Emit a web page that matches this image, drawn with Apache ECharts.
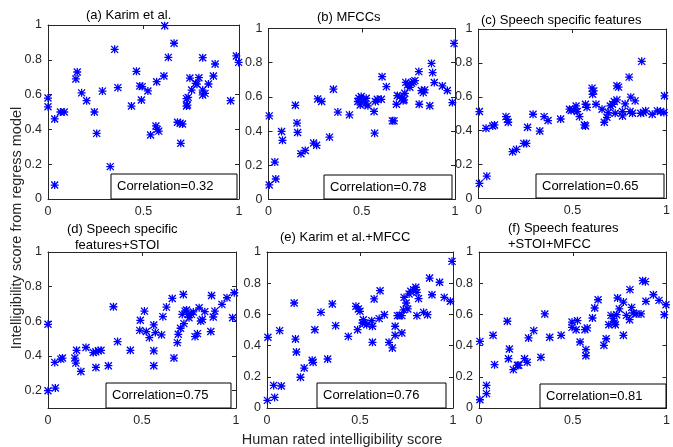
<!DOCTYPE html>
<html>
<head>
<meta charset="utf-8">
<script src="https://cdn.jsdelivr.net/npm/echarts@6/dist/echarts.min.js"></script>
<style>
  html, body { margin: 0; padding: 0; background: #fff; }
  #chart { width: 673px; height: 447px; }
</style>
</head>
<body>
<div id="chart"></div>
<script>
// Predicted vs. human-rated intelligibility, one [human, predicted] pair per utterance.
const karimPts = [
  [0.0,0.58],[0.0,0.53],[0.035,0.46],[0.065,0.50],[0.085,0.50],[0.035,0.08],[0.146,0.69],[0.153,0.73],
  [0.176,0.61],[0.202,0.565],[0.243,0.50],[0.255,0.377],[0.285,0.62],[0.326,0.186],[0.349,0.86],[0.366,0.64],
  [0.437,0.534],[0.463,0.734],[0.481,0.649],[0.493,0.646],[0.489,0.569],[0.523,0.621],[0.537,0.368],[0.569,0.674],
  [0.565,0.42],[0.572,0.40],[0.58,0.39],[0.607,0.707],[0.611,0.996],[0.630,0.814],[0.660,0.895],[0.678,0.441],
  [0.692,0.435],[0.704,0.431],[0.695,0.32],[0.725,0.534],[0.725,0.577],[0.734,0.584],[0.73,0.54],[0.743,0.695],
  [0.752,0.626],[0.773,0.665],[0.78,0.66],[0.79,0.697],[0.81,0.812],[0.81,0.626],[0.81,0.598],[0.822,0.607],
  [0.84,0.661],[0.866,0.707],[0.875,0.776],[0.956,0.565],[0.986,0.822],[0.998,0.785]
];
const mfccPts = [
  [0.004,0.489],[0.004,0.085],[0.034,0.219],[0.039,0.12],[0.07,0.398],[0.075,0.346],[0.144,0.551],[0.153,0.447],
  [0.156,0.392],[0.174,0.268],[0.197,0.287],[0.242,0.33],[0.258,0.317],[0.264,0.588],[0.285,0.573],[0.327,0.365],
  [0.348,0.645],[0.372,0.511],[0.434,0.495],[0.479,0.573],[0.485,0.592],[0.492,0.553],[0.497,0.602],[0.512,0.583],
  [0.519,0.559],[0.524,0.592],[0.533,0.548],[0.566,0.515],[0.569,0.388],[0.573,0.573],[0.583,0.586],[0.605,0.586],
  [0.609,0.718],[0.632,0.66],[0.664,0.46],[0.673,0.46],[0.686,0.557],[0.691,0.608],[0.704,0.602],[0.716,0.592],
  [0.722,0.577],[0.727,0.583],[0.731,0.621],[0.736,0.685],[0.745,0.67],[0.758,0.656],[0.767,0.68],[0.776,0.689],
  [0.785,0.695],[0.806,0.748],[0.808,0.557],[0.82,0.637],[0.83,0.625],[0.838,0.641],[0.865,0.548],[0.874,0.796],
  [0.88,0.742],[0.889,0.684],[0.932,0.664],[0.959,0.637],[0.986,0.567],[0.995,0.913]
];
const speechPts = [
  [0.005,0.513],[0.005,0.089],[0.04,0.414],[0.044,0.132],[0.076,0.428],[0.085,0.434],[0.146,0.483],[0.153,0.467],
  [0.158,0.45],[0.181,0.276],[0.202,0.29],[0.241,0.325],[0.255,0.325],[0.261,0.42],[0.29,0.497],[0.326,0.398],
  [0.349,0.483],[0.37,0.46],[0.437,0.469],[0.484,0.527],[0.493,0.519],[0.507,0.523],[0.519,0.546],[0.525,0.513],
  [0.537,0.483],[0.563,0.434],[0.569,0.428],[0.569,0.556],[0.577,0.538],[0.604,0.651],[0.607,0.615],[0.613,0.635],
  [0.625,0.556],[0.657,0.527],[0.669,0.45],[0.683,0.479],[0.69,0.507],[0.701,0.546],[0.713,0.556],[0.722,0.572],
  [0.727,0.503],[0.736,0.665],[0.745,0.657],[0.736,0.582],[0.766,0.513],[0.766,0.487],[0.78,0.558],[0.801,0.716],
  [0.806,0.513],[0.81,0.598],[0.819,0.503],[0.833,0.576],[0.863,0.503],[0.868,0.809],[0.877,0.507],[0.889,0.517],
  [0.924,0.497],[0.951,0.517],[0.968,0.513],[0.986,0.507],[0.989,0.606]
];
const speechStoiPts = [
  [0.0,0.583],[0.0,0.2],[0.036,0.363],[0.039,0.215],[0.068,0.382],[0.077,0.388],[0.143,0.388],[0.148,0.359],
  [0.152,0.433],[0.175,0.311],[0.202,0.449],[0.241,0.42],[0.254,0.424],[0.268,0.43],[0.282,0.433],[0.255,0.334],
  [0.321,0.344],[0.348,0.684],[0.37,0.483],[0.438,0.433],[0.488,0.548],[0.491,0.606],[0.513,0.659],[0.523,0.541],
  [0.539,0.506],[0.5625,0.579],[0.5625,0.43],[0.5625,0.344],[0.571,0.535],[0.604,0.522],[0.611,0.627],[0.63,0.682],
  [0.661,0.732],[0.67,0.388],[0.688,0.477],[0.693,0.525],[0.705,0.56],[0.72,0.755],[0.723,0.587],[0.714,0.64],
  [0.729,0.659],[0.737,0.665],[0.745,0.64],[0.75,0.621],[0.763,0.64],[0.773,0.654],[0.782,0.512],[0.795,0.529],
  [0.804,0.678],[0.8125,0.602],[0.821,0.611],[0.834,0.656],[0.866,0.541],[0.87,0.749],[0.879,0.625],[0.8875,0.659],
  [0.925,0.698],[0.952,0.736],[0.982,0.621],[0.991,0.765]
];
const karimMfccPts = [
  [0.005,0.453],[0.002,0.049],[0.036,0.145],[0.041,0.068],[0.068,0.496],[0.077,0.141],[0.146,0.673],[0.153,0.442],
  [0.158,0.359],[0.18,0.197],[0.2,0.256],[0.243,0.306],[0.248,0.293],[0.257,0.502],[0.29,0.613],[0.326,0.314],
  [0.351,0.667],[0.369,0.528],[0.437,0.459],[0.478,0.652],[0.487,0.502],[0.491,0.635],[0.5,0.62],[0.513,0.545],
  [0.518,0.566],[0.527,0.545],[0.536,0.534],[0.563,0.56],[0.567,0.524],[0.567,0.421],[0.576,0.699],[0.603,0.573],
  [0.608,0.752],[0.631,0.598],[0.656,0.421],[0.674,0.385],[0.689,0.466],[0.689,0.524],[0.701,0.592],[0.712,0.594],
  [0.725,0.592],[0.725,0.481],[0.734,0.629],[0.737,0.709],[0.748,0.673],[0.757,0.635],[0.764,0.731],[0.773,0.748],
  [0.788,0.759],[0.8,0.774],[0.806,0.741],[0.815,0.701],[0.806,0.592],[0.842,0.613],[0.863,0.598],[0.874,0.833],
  [0.887,0.726],[0.928,0.806],[0.953,0.709],[0.986,0.684],[0.995,0.94]
];
const fusionPts = [
  [0.005,0.427],[0.005,0.053],[0.04,0.145],[0.04,0.092],[0.075,0.466],[0.083,0.278],[0.151,0.556],[0.157,0.316],
  [0.162,0.378],[0.183,0.246],[0.205,0.274],[0.212,0.274],[0.243,0.316],[0.257,0.293],[0.264,0.449],[0.292,0.496],
  [0.33,0.325],[0.351,0.603],[0.377,0.453],[0.438,0.466],[0.496,0.551],[0.496,0.517],[0.518,0.502],[0.525,0.56],
  [0.539,0.423],[0.565,0.502],[0.57,0.374],[0.57,0.335],[0.577,0.513],[0.605,0.577],[0.617,0.641],[0.635,0.694],
  [0.666,0.402],[0.678,0.444],[0.692,0.534],[0.704,0.594],[0.717,0.573],[0.722,0.545],[0.727,0.534],[0.734,0.598],
  [0.739,0.705],[0.748,0.635],[0.77,0.679],[0.77,0.466],[0.786,0.594],[0.803,0.566],[0.805,0.759],[0.814,0.645],
  [0.823,0.609],[0.838,0.603],[0.864,0.603],[0.873,0.816],[0.887,0.81],[0.89,0.684],[0.93,0.726],[0.96,0.69],
  [0.988,0.598],[0.997,0.662]
];

const panelData = [karimPts, mfccPts, speechPts, speechStoiPts, karimMfccPts, fusionPts];
const panelTitles = [
  ['(a) Karim et al.'],
  ['(b) MFCCs'],
  ['(c) Speech specific features'],
  ['(d) Speech specific', 'features+STOI'],
  ['(e) Karim et al.+MFCC'],
  ['(f) Speech features', '+STOI+MFCC']
];
const correlations = [0.32, 0.78, 0.65, 0.75, 0.76, 0.81];
const xTickValues = [0, 0.5, 1];
const yTickValues = [0, 0.2, 0.4, 0.6, 0.8, 1];
const yMinValues = [0, 0, 0, 0.1, 0, 0];
const xAxisName = 'Human rated intelligibility score';
const yAxisName = 'Intelligibility score from regress model';

// Layout (pixels): plot frames, title anchors, correlation boxes
const frames = [
  { l: 48,    r: 239,   t: 25,   b: 199 },
  { l: 268.5, r: 455,   t: 28.5, b: 199.5 },
  { l: 478.5, r: 667.5, t: 29,   b: 198.5 },
  { l: 48,    r: 236,   t: 252,  b: 408 },
  { l: 267,   r: 453,   t: 252,  b: 408 },
  { l: 479,   r: 670,   t: 252,  b: 408 }
];
const titleAnchors = [
  [[86, 15]], [[317, 17]], [[481, 20]],
  [[67, 229], [75, 245]], [[280, 237]], [[508, 228], [508, 244]]
];
const corrBoxes = [
  [111, 174, 126, 25], [324, 175, 128, 24], [536, 174, 128, 24],
  [106, 383, 125, 25], [317, 383, 129, 25], [540, 384, 126, 24]
];

const FONT = '"Liberation Sans", Arial, Helvetica, sans-serif';
const AXIS_COLOR = '#262626';
const MARKER_COLOR = '#0000ff';

// Eight-armed asterisk marker built from four thin bars
const ASTERISK = 'path://M0 6.7L16 6.7L16 9.3L0 9.3Z M6.7 0L9.3 0L9.3 16L6.7 16Z ' +
  'M1.92 0.08L15.92 14.08L14.08 15.92L0.08 1.92Z M14.08 0.08L15.92 1.92L1.92 15.92L0.08 14.08Z';

const chart = echarts.init(document.getElementById('chart'), null, { renderer: 'canvas' });

const grids = [], xAxes = [], yAxes = [], series = [], graphics = [];

function xAxisDef(i, pos) {
  return {
    type: 'value', gridIndex: i, position: pos, min: 0, max: 1, interval: 0.5,
    axisLine: { show: true, onZero: false, lineStyle: { color: AXIS_COLOR, width: 1 } },
    axisTick: { show: true, inside: true, length: 4, lineStyle: { color: AXIS_COLOR, width: 1 } },
    axisLabel: {
      show: pos === 'bottom', color: AXIS_COLOR, fontSize: 12.5, fontFamily: FONT, margin: 6,
      formatter: v => String(v)
    },
    splitLine: { show: false }
  };
}

function yAxisDef(i, pos) {
  const ymin = yMinValues[i];
  const ticks = yTickValues.filter(v => v >= ymin - 1e-9);
  const def = {
    type: 'value', gridIndex: i, position: pos, min: ymin, max: 1,
    axisLine: { show: true, onZero: false, lineStyle: { color: AXIS_COLOR, width: 1 } },
    axisTick: { show: true, inside: true, length: 4, lineStyle: { color: AXIS_COLOR, width: 1 } },
    axisLabel: {
      show: pos === 'left', color: AXIS_COLOR, fontSize: 12.5, fontFamily: FONT, margin: 6,
      formatter: v => String(Math.round(v * 10) / 10)
    },
    splitLine: { show: false }
  };
  if (ymin === 0) {
    def.interval = 0.2;
  } else {
    def.axisLabel.customValues = ticks;
    def.axisTick.customValues = ticks;
  }
  return def;
}

panelData.forEach((pts, i) => {
  const f = frames[i];
  grids.push({ left: f.l, top: f.t, width: f.r - f.l, height: f.b - f.t, containLabel: false });
  xAxes.push(xAxisDef(i, 'bottom'), xAxisDef(i, 'top'));
  yAxes.push(yAxisDef(i, 'left'), yAxisDef(i, 'right'));
  series.push({
    type: 'scatter', xAxisIndex: 2 * i, yAxisIndex: 2 * i, data: pts,
    symbol: ASTERISK, symbolSize: 8, silent: true,
    itemStyle: { color: MARKER_COLOR, opacity: 1 }
  });

  panelTitles[i].forEach((line, k) => {
    const [tx, ty] = titleAnchors[i][k];
    graphics.push({
      type: 'text', x: tx, y: ty, silent: true,
      style: { text: line, fill: '#000', font: '13px ' + FONT, textAlign: 'left', textVerticalAlign: 'middle' }
    });
  });

  const [bx, by, bw, bh] = corrBoxes[i];
  graphics.push({
    type: 'rect', silent: true, z: 10,
    shape: { x: bx, y: by, width: bw, height: bh },
    style: { fill: '#fff', stroke: '#000', lineWidth: 1 }
  });
  graphics.push({
    type: 'text', silent: true, z: 11, x: bx + 6, y: by + bh / 2,
    style: {
      text: 'Correlation=' + correlations[i].toFixed(2), fill: '#000',
      font: '13px ' + FONT, textAlign: 'left', textVerticalAlign: 'middle'
    }
  });
});

// Shared axis names
graphics.push({
  type: 'text', silent: true, x: 342, y: 440,
  style: { text: xAxisName, fill: AXIS_COLOR, font: '14.5px ' + FONT, textAlign: 'center', textVerticalAlign: 'middle' }
});
graphics.push({
  type: 'text', silent: true, x: 17, y: 228, rotation: Math.PI / 2,
  style: { text: yAxisName, fill: AXIS_COLOR, font: '14.5px ' + FONT, textAlign: 'center', textVerticalAlign: 'middle' }
});

chart.setOption({
  animation: false,
  backgroundColor: '#fff',
  grid: grids,
  xAxis: xAxes,
  yAxis: yAxes,
  series: series,
  graphic: graphics
});
</script>
</body>
</html>
